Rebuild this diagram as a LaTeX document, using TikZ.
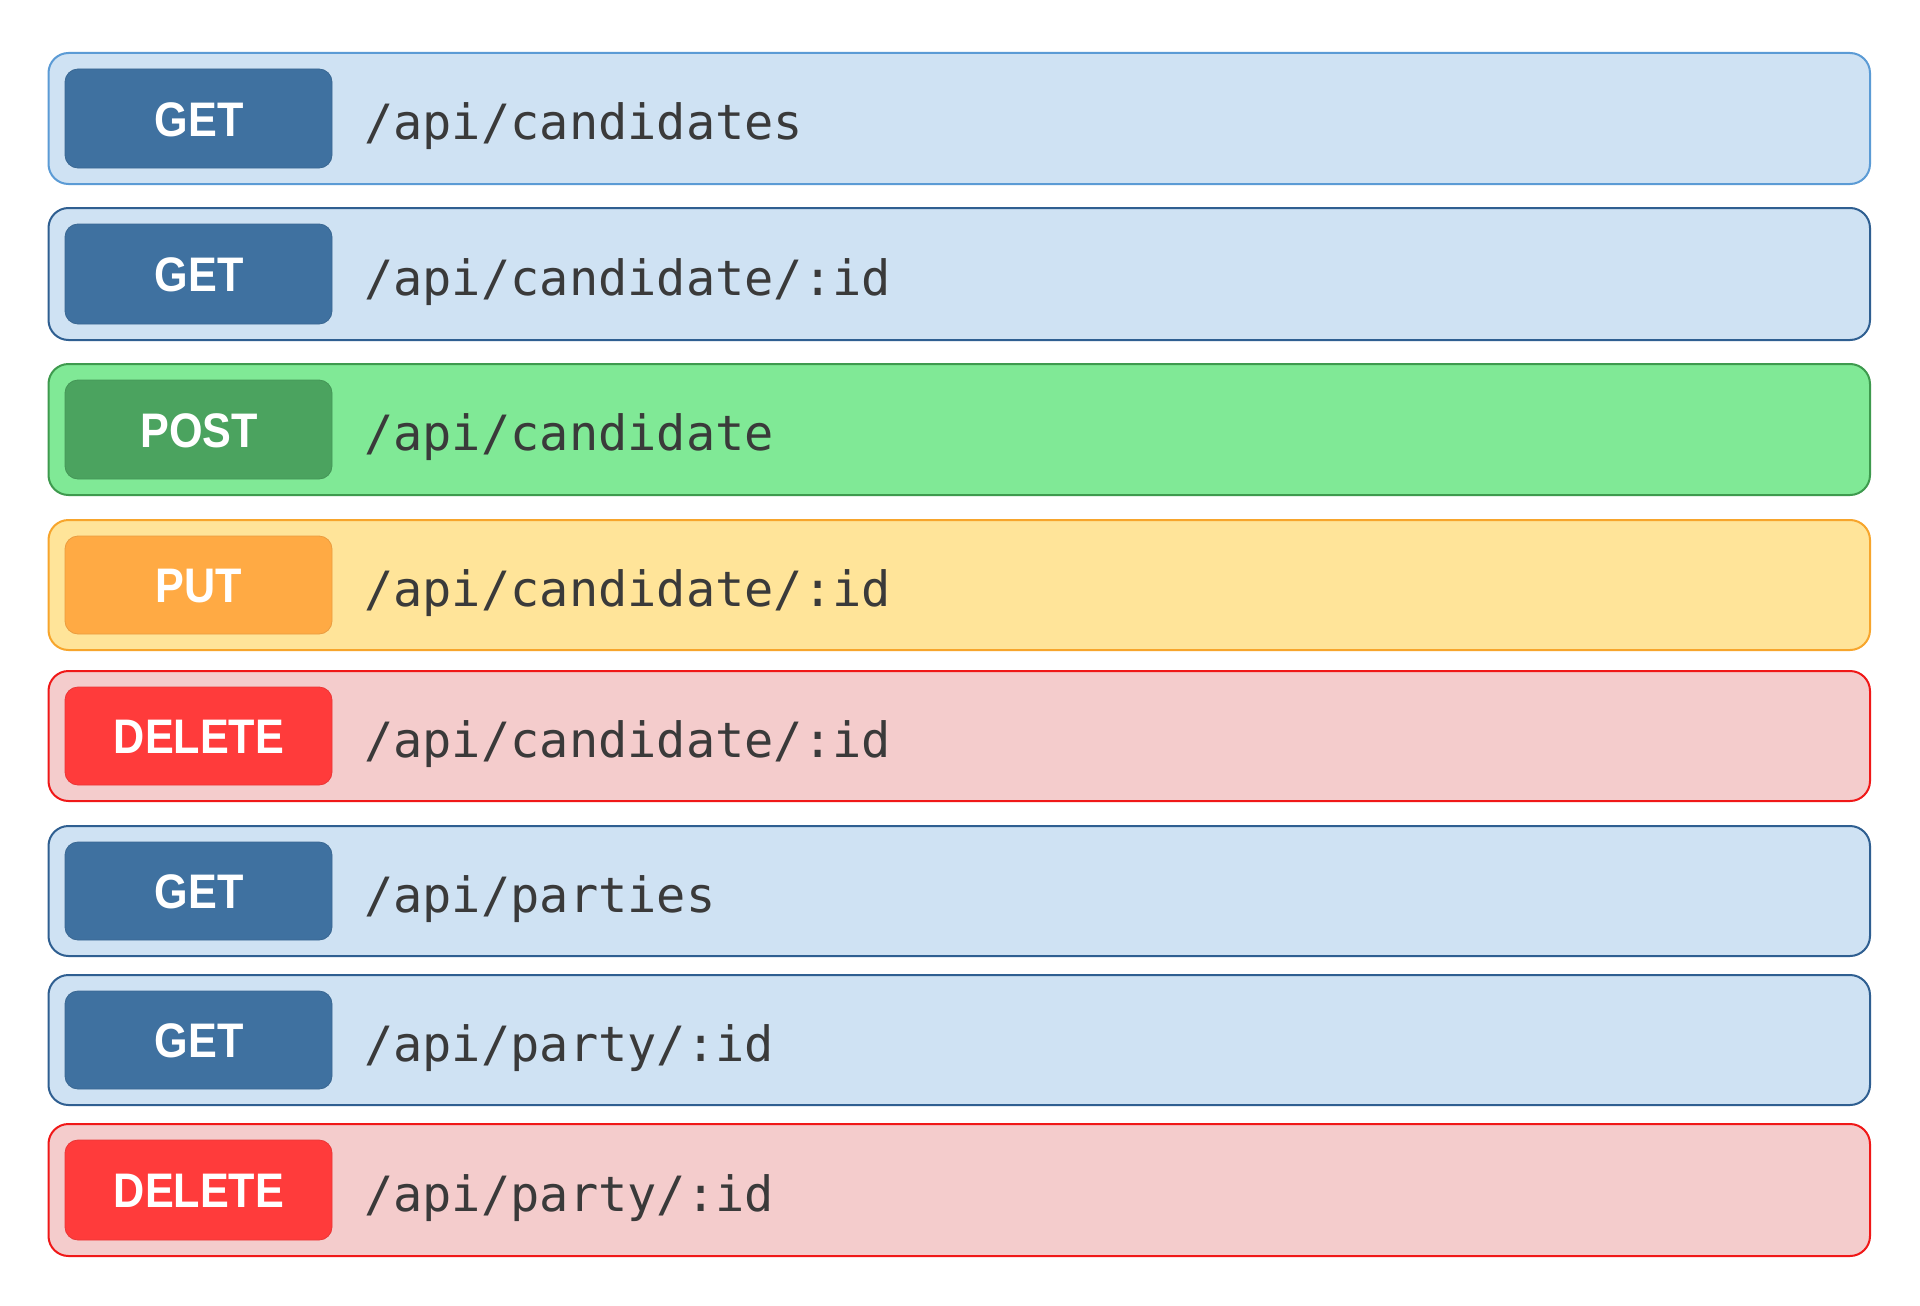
\documentclass[tikz,border=0pt]{standalone}
\usepackage{fontspec}
\newfontfamily\pathfont{DejaVu Sans Mono}
\newfontfamily\verbfont{Liberation Sans}[FakeStretch=0.89]
\begin{document}
\begin{tikzpicture}[x=1pt,y=-1pt,
  rowbox/.style={rounded corners=20pt,line width=2pt},
  verbbox/.style={rounded corners=13pt,line width=0.8pt},
  verbtext/.style={anchor=base,text=white,font=\verbfont\bfseries\fontsize{48.5}{50}\selectfont,inner sep=0pt},
  pathtext/.style={anchor=base west,text=pathgray,font=\pathfont\fontsize{48.6}{50}\selectfont,inner sep=0pt}
]
\definecolor{pathgray}{HTML}{3A3A3A}
% GET
\definecolor{getfill}{HTML}{CFE2F3}
\definecolor{getline}{HTML}{2F5F91}
\definecolor{getlinelight}{HTML}{5B9BD5}
\definecolor{getbadge}{HTML}{3F71A0}
% POST
\definecolor{postfill}{HTML}{80E996}
\definecolor{postline}{HTML}{3E9A4E}
\definecolor{postbadge}{HTML}{4BA35F}
% PUT
\definecolor{putfill}{HTML}{FFE499}
\definecolor{putline}{HTML}{F7A52C}
\definecolor{putbadge}{HTML}{FFAA44}
% DELETE
\definecolor{delfill}{HTML}{F4CCCC}
\definecolor{delline}{HTML}{F01818}
\definecolor{delbadge}{HTML}{FF3B3B}

\useasboundingbox[fill=white] (0,0) rectangle (1920,1306);

% #1 top, #2 bottom, #3 fill, #4 line, #5 badge, #6 verb, #7 path, #8 name
\newcommand{\apirow}[8]{%
  \path[rowbox,fill=#3,draw=#4] (48.5,#1) rectangle (1870,#2);
  \path[verbbox,fill=#5,draw=#5!92!black] (65,#1+16) rectangle (332,#2-16);
  \node[verbtext] (verb#8) at (199,{(#1+#2)/2+17.5}) {#6};
  \node[pathtext] (path#8) at (364,{(#1+#2)/2+21}) {#7};
}

\apirow{53}{184}{getfill}{getlinelight}{getbadge}{GET}{/api/candidates}{a}
\apirow{208}{340}{getfill}{getline}{getbadge}{GET}{/api/candidate/:id}{b}
\apirow{364}{495}{postfill}{postline}{postbadge}{POST}{/api/candidate}{c}
\apirow{520}{650}{putfill}{putline}{putbadge}{PUT}{/api/candidate/:id}{d}
\apirow{671}{801}{delfill}{delline}{delbadge}{DELETE}{/api/candidate/:id}{e}
\apirow{826}{956}{getfill}{getline}{getbadge}{GET}{/api/parties}{f}
\apirow{975}{1105}{getfill}{getline}{getbadge}{GET}{/api/party/:id}{g}
\apirow{1124}{1256}{delfill}{delline}{delbadge}{DELETE}{/api/party/:id}{h}
\end{tikzpicture}
\end{document}
